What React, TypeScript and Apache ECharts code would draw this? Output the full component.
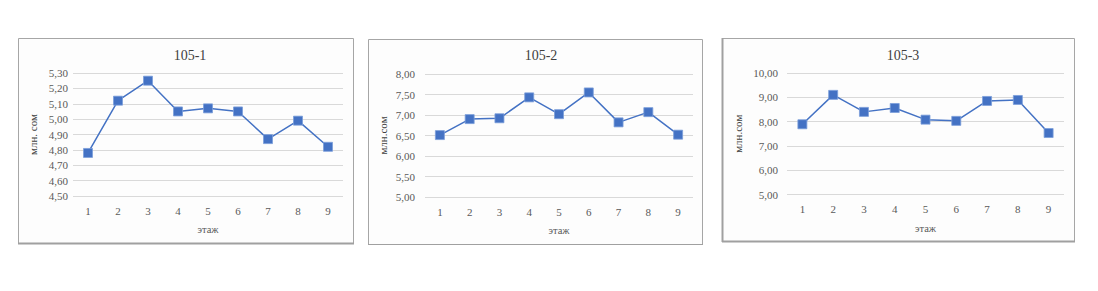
import React, { useEffect, useRef } from "react";
import * as echarts from "echarts";

const floors = ["1", "2", "3", "4", "5", "6", "7", "8", "9"];
const titles = ["105-1", "105-2", "105-3"];
const yNames = ["млн. сом", "млн.сом", "млн.сом"];
const xName = "этаж";
const values1 = [4.78, 5.12, 5.25, 5.05, 5.07, 5.05, 4.87, 4.99, 4.82];
const values2 = [6.51, 6.9, 6.92, 7.43, 7.02, 7.55, 6.82, 7.07, 6.52];
const values3 = [7.89, 9.1, 8.4, 8.56, 8.08, 8.03, 8.85, 8.89, 7.53];
const yMins = [4.5, 5, 5];
const yMaxs = [5.3, 8, 10];
const yIntervals = [0.1, 0.5, 1];

const allValues = [values1, values2, values3];

const panels = [
  { x: 18, y: 38, w: 335, h: 205 },
  { x: 368, y: 39, w: 334, h: 205 },
  { x: 722, y: 38, w: 352, h: 203 },
];
const grids = [
  { left: 73, top: 73, width: 270, height: 123 },
  { left: 425, top: 74, width: 268, height: 123 },
  { left: 787, top: 73, width: 277, height: 121.5 },
];
const titleX = [185, 536, 898];
const labelMargins = [5, 10, 9];
const nameGaps = [35, 37, 44];

const FONT = "Liberation Serif";
const BLUE = "#4472C4";

export default function App() {
  const ref = useRef<HTMLDivElement>(null);
  useEffect(() => {
    if (!ref.current) return;
    const chart = echarts.init(ref.current, null, { renderer: "svg" });
    const fmt = (v: number) => v.toFixed(2).replace(".", ",");
    const graphic: any[] = [];
    panels.forEach((p, i) => {
      graphic.push({
        type: "rect",
        shape: { x: p.x + 0.5, y: p.y + 0.5, width: p.w, height: p.h },
        style: { fill: "#fdfdfd", stroke: "#a6a6a6", lineWidth: 1 },
        z: -10,
      });
      graphic.push({
        type: "line",
        shape: { x1: p.x, y1: p.y + p.h + 0.5, x2: p.x + p.w + 1, y2: p.y + p.h + 0.5 },
        style: { stroke: "#a0a0a0", lineWidth: i === 1 ? 1 : 2 },
        z: -9,
      });
      if (i === 2) {
        graphic.push({
          type: "line",
          shape: { x1: p.x + 0.5, y1: p.y, x2: p.x + 0.5, y2: p.y + p.h + 1 },
          style: { stroke: "#a0a0a0", lineWidth: 2 },
          z: -9,
        });
      }
    });
    chart.setOption({
      animation: false,
      backgroundColor: "#ffffff",
      textStyle: { fontFamily: FONT },
      graphic,
      title: titles.map((t, i) => ({
        text: t,
        left: titleX[i],
        top: 43,
        textAlign: "center",
        textStyle: { fontFamily: FONT, fontSize: 14, fontWeight: "normal", color: "#404040" },
      })),
      grid: grids.map((g) => ({ ...g })),
      xAxis: grids.map((_, i) => ({
        type: "category",
        gridIndex: i,
        data: floors,
        boundaryGap: true,
        axisLine: { show: false },
        axisTick: { show: false },
        axisLabel: { margin: 9, fontSize: 11, color: "#595959", fontFamily: FONT },
        name: xName,
        nameLocation: "middle",
        nameGap: 28,
        nameTextStyle: { fontSize: 10.5, color: "#595959", fontFamily: FONT },
      })),
      yAxis: grids.map((_, i) => ({
        type: "value",
        gridIndex: i,
        min: yMins[i],
        max: yMaxs[i],
        interval: yIntervals[i],
        axisLine: { show: false },
        axisTick: { show: false },
        splitLine: { lineStyle: { color: "#d9d9d9", width: 1 } },
        axisLabel: {
          margin: labelMargins[i],
          fontSize: 11,
          color: "#595959",
          fontFamily: FONT,
          formatter: fmt,
        },
        name: yNames[i],
        nameLocation: "middle",
        nameGap: nameGaps[i],
        nameRotate: 90,
        nameTextStyle: { fontSize: 11, color: "#404040", fontFamily: FONT },
      })),
      series: allValues.map((vals, i) => ({
        type: "line",
        xAxisIndex: i,
        yAxisIndex: i,
        data: vals,
        symbol: "rect",
        symbolSize: 9,
        lineStyle: { color: BLUE, width: 1.5 },
        itemStyle: { color: BLUE, borderColor: "#7b9edb", borderWidth: 0.8 },
      })),
    });
    return () => chart.dispose();
  }, []);
  return (
    <div
      ref={ref}
      style={{ position: "absolute", left: 0, top: 0, width: 1098, height: 291 }}
    />
  );
}
